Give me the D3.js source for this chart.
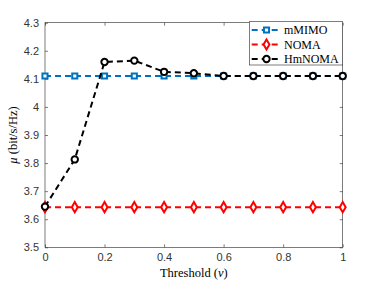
<!DOCTYPE html>
<html>
<head>
<meta charset="utf-8">
<script src="https://cdn.jsdelivr.net/npm/d3@7"></script>
<style>
body { margin: 0; background: #fff; }
</style>
</head>
<body>
<div id="plot"></div>
<script>
// data
var thresholds = [0, 0.1, 0.2, 0.3, 0.4, 0.5, 0.6, 0.7, 0.8, 0.9, 1];
var mmimo = [4.11, 4.11, 4.11, 4.11, 4.11, 4.11, 4.11, 4.11, 4.11, 4.11, 4.11];
var noma = [3.643, 3.643, 3.643, 3.643, 3.643, 3.643, 3.643, 3.643, 3.643, 3.643, 3.643];
var hmnoma = [3.645, 3.813, 4.16, 4.165, 4.125, 4.12, 4.11, 4.11, 4.11, 4.11, 4.11];
var xTicks = [0, 0.2, 0.4, 0.6, 0.8, 1];
var yTicks = [3.5, 3.6, 3.7, 3.8, 3.9, 4, 4.1, 4.2, 4.3];
var seriesNames = ["mMIMO", "NOMA", "HmNOMA"];

var width = 379, height = 283;
var pLeft = 45, pRight = 342.7, pTop = 22.7, pBottom = 247.3;

var svg = d3.select("#plot").append("svg")
    .attr("width", width)
    .attr("height", height)
    .style("font-family", "'Liberation Sans', Arial, sans-serif");

var x = d3.scaleLinear().domain([0, 1]).range([pLeft, pRight]);
var y = d3.scaleLinear().domain([3.5, 4.3]).range([pBottom, pTop]);

var axisColor = "#262626";

// axes with inward ticks, box on
svg.append("g")
    .attr("transform", `translate(0, ${pBottom})`)
    .call(d3.axisBottom(x).tickValues(xTicks).tickSize(-3).tickPadding(6).tickFormat(d3.format("")))
    .call(g => g.select(".domain").remove());
svg.append("g")
    .attr("transform", `translate(0, ${pTop})`)
    .call(d3.axisTop(x).tickValues(xTicks).tickSize(-3).tickFormat(""))
    .call(g => g.select(".domain").remove());
svg.append("g")
    .attr("transform", `translate(${pLeft}, 0)`)
    .call(d3.axisLeft(y).tickValues(yTicks).tickSize(-3).tickPadding(6).tickFormat(d3.format("")))
    .call(g => g.select(".domain").remove());
svg.append("g")
    .attr("transform", `translate(${pRight}, 0)`)
    .call(d3.axisRight(y).tickValues(yTicks).tickSize(-3).tickFormat(""))
    .call(g => g.select(".domain").remove());

svg.selectAll(".tick line").attr("stroke", axisColor).attr("stroke-width", 0.6);
svg.selectAll(".tick text").attr("fill", "#333").style("font-size", "11px")
    .style("font-family", "'Liberation Sans', Arial, sans-serif");

svg.append("rect")
    .attr("x", pLeft).attr("y", pTop)
    .attr("width", pRight - pLeft).attr("height", pBottom - pTop)
    .attr("fill", "none").attr("stroke", axisColor).attr("stroke-width", 0.6);

var series = [
    {name: seriesNames[0], values: mmimo, color: "#0072BD", marker: d3.symbolSquare, size: 26},
    {name: seriesNames[1], values: noma, color: "#FF0000", marker: d3.symbolDiamond, size: 30},
    {name: seriesNames[2], values: hmnoma, color: "#000000", marker: d3.symbolCircle, size: 32}
];

var line = d3.line()
    .x((d, i) => x(thresholds[i]))
    .y(d => y(d));

series.forEach(function(s) {
    svg.append("path")
        .attr("d", line(s.values))
        .attr("fill", "none")
        .attr("stroke", s.color)
        .attr("stroke-width", 2)
        .attr("stroke-dasharray", "6,4");
    svg.selectAll(null)
        .data(s.values)
        .enter()
        .append("path")
        .attr("d", d3.symbol().type(s.marker).size(s.size))
        .attr("transform", (d, i) => `translate(${x(thresholds[i])}, ${y(d)})`)
        .attr("fill", "#fff")
        .attr("stroke", s.color)
        .attr("stroke-width", 2);
});

// legend
var lg = svg.append("g");
lg.append("rect")
    .attr("x", 249.3).attr("y", 21.7)
    .attr("width", 93.4).attr("height", 43.3)
    .attr("fill", "#fff").attr("stroke", axisColor).attr("stroke-width", 0.6);
series.forEach(function(s, i) {
    var yy = 30 + i * 14.5;
    lg.append("line")
        .attr("x1", 251.7).attr("x2", 281)
        .attr("y1", yy).attr("y2", yy)
        .attr("stroke", s.color).attr("stroke-width", 2)
        .attr("stroke-dasharray", "6,4");
    lg.append("path")
        .attr("d", d3.symbol().type(s.marker).size(s.size))
        .attr("transform", `translate(266.5, ${yy})`)
        .attr("fill", "#fff").attr("stroke", s.color).attr("stroke-width", 2);
    lg.append("text")
        .attr("x", 284).attr("y", yy)
        .attr("dy", "0.35em")
        .style("font-family", "'Liberation Serif', 'DejaVu Serif', serif")
        .style("font-size", "12px")
        .attr("fill", "#000")
        .text(s.name);
});

// axis labels
var xl = svg.append("text")
    .attr("x", (pLeft + pRight) / 2).attr("y", 277)
    .attr("text-anchor", "middle")
    .style("font-family", "'Liberation Serif', 'DejaVu Serif', serif")
    .style("font-size", "12.5px")
    .attr("fill", "#000");
xl.append("tspan").text("Threshold (");
xl.append("tspan").style("font-style", "italic").text("ν");
xl.append("tspan").text(")");

var yl = svg.append("text")
    .attr("transform", `translate(17, ${(pTop + pBottom) / 2}) rotate(-90)`)
    .attr("text-anchor", "middle")
    .style("font-family", "'Liberation Serif', 'DejaVu Serif', serif")
    .style("font-size", "12.5px")
    .attr("fill", "#000");
yl.append("tspan").style("font-style", "italic").text("μ");
yl.append("tspan").text(" (bit/s/Hz)");
</script>
</body>
</html>
